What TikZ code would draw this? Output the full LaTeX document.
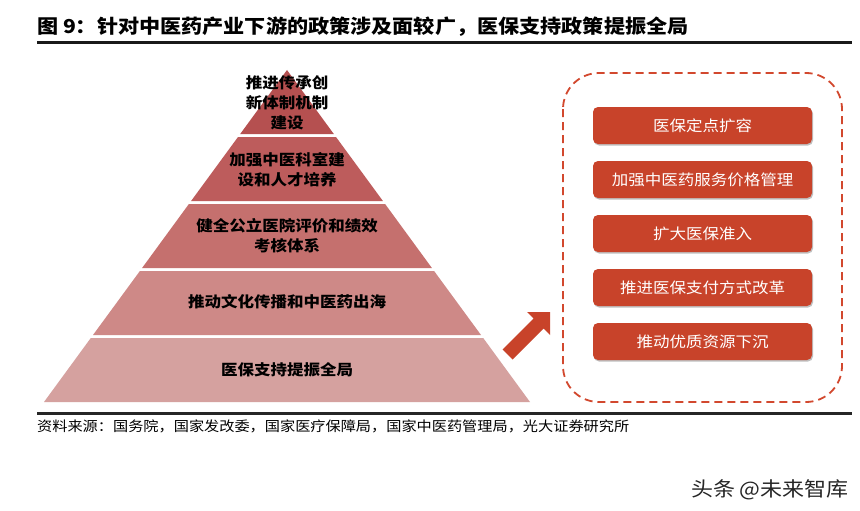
\documentclass[tikz,border=0pt]{standalone}
\usepackage{fontspec}
\setmainfont{Noto Sans CJK SC}[FakeStretch=1.1]
\definecolor{band1}{RGB}{181,80,80}
\definecolor{band2}{RGB}{189,92,92}
\definecolor{band3}{RGB}{197,112,110}
\definecolor{band4}{RGB}{206,137,135}
\definecolor{band5}{RGB}{213,161,159}
\definecolor{btnred}{RGB}{200,67,42}
\definecolor{dashred}{RGB}{210,72,46}
\begin{document}
\begin{tikzpicture}[x=1pt,y=-1pt,
  pyrtext/.style={font=\fontsize{15}{20}\selectfont\bfseries, text=black, align=center},
  btn/.style={fill=btnred, rounded corners=5pt, minimum width=219pt, minimum height=37pt, inner sep=0pt, text=white, font=\fontsize{15}{18}\selectfont},
  btnshadow/.style={fill=black!25, rounded corners=5pt, minimum width=219pt, minimum height=37pt, inner sep=0pt}
]
\useasboundingbox (0,0) rectangle (860,511);
\fill[white] (0,0) rectangle (860,511);
% title
\node[anchor=west, inner sep=0pt, font=\fontsize{19.2}{22}\selectfont\bfseries] (title) at (37,27) {图 9：针对中医药产业下游的政策涉及面较广，医保支持政策提振全局};
\draw[line width=3pt, black!90] (37,43) -- (852,43);
% pyramid bands
\fill[band1] (287,70) -- (333.8,134) -- (240.2,134) -- cycle;
\fill[band2] (238.0,137) -- (336.0,137) -- (382.9,201) -- (191.1,201) -- cycle;
\fill[band3] (188.9,204) -- (385.1,204) -- (431.9,268) -- (142.1,268) -- cycle;
\fill[band4] (139.9,271) -- (434.1,271) -- (481.0,335) -- (93.0,335) -- cycle;
\fill[band5] (90.8,338) -- (483.2,338) -- (530,402) -- (44,402) -- cycle;
\node[pyrtext] (p1) at (287,103) {推进传承创\\新体制机制\\建设};
\node[pyrtext] (p2) at (287,170) {加强中医科室建\\设和人才培养};
\node[pyrtext] (p3) at (287,236) {健全公立医院评价和绩效\\考核体系};
\node[pyrtext] (p4) at (287,302) {推动文化传播和中医药出海};
\node[pyrtext] (p5) at (287,370) {医保支持提振全局};
% arrow
\fill[btnred] (550,312) -- (550,335) -- (543.5,328.5) -- (512.5,359.5) -- (502.5,349.5) -- (533.5,318.5) -- (527,312) -- cycle;
% dashed frame
\draw[dashred, line width=1.8pt, dash pattern=on 8pt off 5pt, rounded corners=36pt] (563,73) rectangle (842,402);
% buttons
\foreach \y/\t/\n in {125.5/医保定点扩容/b1, 179.5/加强中医药服务价格管理/b2, 233.5/扩大医保准入/b3, 287.5/推进医保支付方式改革/b4, 341.5/推动优质资源下沉/b5}{
  \node[btnshadow] at (703.5,\y+1.5) {};
  \node[btn] (\n) at (702.5,\y) {\t};
}
% bottom line and source
\draw[line width=3pt, black!85] (37,413) -- (852,413);
\node[anchor=west, inner sep=0pt, font=\fontsize{13.8}{16}\selectfont] (src) at (37,426) {资料来源：国务院，国家发改委，国家医疗保障局，国家中医药管理局，光大证券研究所};
\node[anchor=east, inner sep=0pt, font=\fontsize{20}{22}\selectfont, text=black!85] (wm) at (849,490) {头条 @未来智库};
\end{tikzpicture}
\end{document}
